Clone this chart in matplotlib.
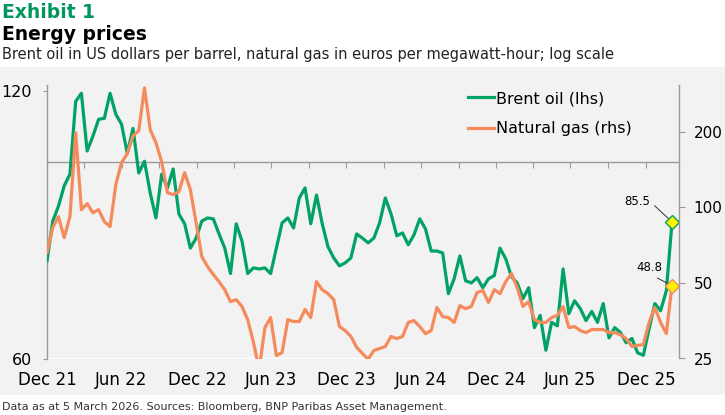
import matplotlib
matplotlib.use("Agg")
import matplotlib.pyplot as plt
from matplotlib.patches import Rectangle
from matplotlib.ticker import NullLocator
import pandas as pd

plt.rcParams['font.family'] = ['DejaVu Sans']

# biweekly readings, last one on 5 March 2026
brent = [77.3, 85.7, 89.1, 93.9, 96.8, 116.9, 119.4, 102.8, 106.8, 111.6,
         111.9, 119.4, 113.1, 110.2, 102.2, 109.0, 97.1, 100.1, 92.2, 86.4,
         96.8, 93.4, 98.1, 87.3, 85.1, 79.9, 82.0, 85.7, 86.4, 86.2,
         82.9, 79.9, 74.8, 85.1, 81.4, 74.8, 75.9, 75.7, 75.9, 74.8,
         79.9, 85.3, 86.4, 84.2, 91.0, 93.4, 85.1, 91.7, 85.1, 80.2,
         77.9, 76.3, 76.9, 77.9, 82.9, 82.0, 81.0, 82.0, 85.3, 91.0,
         87.3, 82.5, 83.1, 80.6, 82.7, 86.2, 84.0, 79.3, 79.3, 78.9,
         71.0, 73.8, 78.3, 73.4, 73.0, 74.0, 72.1, 73.8, 74.4, 79.9,
         77.7, 74.2, 73.0, 70.1, 72.1, 65.0, 67.1, 61.3, 65.9, 65.3,
         75.7, 67.4, 69.7, 68.3, 66.2, 67.8, 65.9, 69.2, 63.3, 65.0,
         64.2, 62.5, 63.2, 60.9, 60.5, 64.8, 69.2, 67.9, 71.5, 85.5]

gas = [66.0, 83.0, 91.8, 75.7, 91.8, 198.2, 97.9, 103.4, 95.2, 97.9,
       87.7, 83.8, 123.1, 150.6, 163.5, 192.8, 201.8, 299.0, 203.7, 180.8,
       151.9, 114.4, 112.3, 115.4, 137.4, 117.6, 86.9, 63.6, 58.1, 54.0,
       50.6, 47.0, 42.1, 42.9, 40.3, 35.7, 29.0, 22.6, 33.2, 36.4,
       25.7, 26.4, 35.7, 35.1, 35.1, 39.2, 36.4, 50.6, 47.0, 45.3,
       42.9, 33.5, 32.3, 30.6, 27.7, 26.2, 24.8, 26.9, 27.4, 27.9,
       30.6, 30.0, 30.6, 34.8, 35.4, 33.5, 31.4, 32.3, 39.9, 36.7,
       36.4, 34.8, 40.6, 39.5, 40.3, 45.8, 46.6, 41.8, 47.0, 45.3,
       50.6, 54.5, 47.9, 40.3, 42.1, 35.7, 34.8, 34.8, 36.4, 37.1,
       40.3, 33.2, 33.5, 32.3, 31.7, 32.6, 32.6, 32.6, 31.7, 31.7,
       31.1, 30.0, 27.9, 28.2, 28.4, 34.8, 39.9, 34.8, 31.4, 48.8]

dates = pd.date_range(end="2026-03-05", periods=len(brent), freq="14D")

left_ticks = [60, 120]
right_ticks = [25, 50, 100, 200]

GREEN = '#00A265'
ORANGE = '#F58A5C'
AXIS = '#9A9A9A'

fig = plt.figure(figsize=(7.25, 4.15), dpi=100)
fig.patches.append(Rectangle((0, 20 / 415), 1, 328 / 415, transform=fig.transFigure,
                             facecolor='#F2F2F2', edgecolor='none', zorder=-10))

fig.text(0.003, 1 - 13 / 415, "Exhibit 1", color='#00965E', fontsize=13.5,
         fontweight='bold', va='center', ha='left')
fig.text(0.003, 1 - 34 / 415, "Energy prices", color='black', fontsize=13.5,
         fontweight='bold', va='center', ha='left')
fig.text(0.003, 1 - 55 / 415,
         "Brent oil in US dollars per barrel, natural gas in euros per megawatt-hour; log scale",
         color='#222222', fontsize=10.5, va='center', ha='left')
fig.text(0.003, 1 - 407 / 415,
         "Data as at 5 March 2026. Sources: Bloomberg, BNP Paribas Asset Management.",
         color='#333333', fontsize=8, va='center', ha='left')

ax = fig.add_axes([47 / 725, 1 - 358.5 / 415, (679 - 47) / 725, (358.5 - 85) / 415])
ax.patch.set_alpha(0)
ax2 = ax.twinx()
ax2.patch.set_alpha(0)

l1, = ax.plot(dates, brent, color=GREEN, lw=2.3, label="Brent oil (lhs)", zorder=3)
l2, = ax2.plot(dates, gas, color=ORANGE, lw=2.3, label="Natural gas (rhs)", zorder=3)

ax.set_yscale('log')
ax2.set_yscale('log')
ax.set_ylim(60, 122)
ax2.set_ylim(25, 307)
ax.set_xlim(pd.Timestamp("2021-12-30"), pd.Timestamp("2026-03-22"))

ax.set_yticks(left_ticks, [str(t) for t in left_ticks])
ax2.set_yticks(right_ticks, [str(t) for t in right_ticks])
ax.yaxis.set_minor_locator(NullLocator())
ax2.yaxis.set_minor_locator(NullLocator())

for a in (ax, ax2):
    for s in a.spines.values():
        s.set_color(AXIS)
        s.set_linewidth(1.0)
    a.spines['top'].set_visible(False)
ax.spines['right'].set_visible(False)
ax2.spines['left'].set_visible(False)
ax2.spines['bottom'].set_visible(False)

# x axis line sits at 100 on the left scale
ax.spines['bottom'].set_position(('data', 100))
quarter_ends = pd.date_range("2021-12-01", "2025-12-01", freq="3MS") + pd.offsets.MonthEnd(0)
ax.set_xticks(quarter_ends)
ax.tick_params(axis='x', direction='out', length=4, color=AXIS, labelbottom=False)
ax.xaxis.set_minor_locator(NullLocator())

secx = ax.secondary_xaxis('bottom')
label_dates = quarter_ends[::2]
secx.set_xticks(label_dates, [d.strftime('%b %y') for d in label_dates])
secx.tick_params(length=0, pad=9, labelsize=12, labelcolor='black')
secx.spines['bottom'].set_visible(False)

ax.tick_params(axis='y', direction='out', length=3, color=AXIS, pad=8,
               labelsize=11.5, labelcolor='black')
ax2.tick_params(axis='y', direction='out', length=4, color=AXIS, pad=6.5,
                labelsize=11, labelcolor='black')

# latest values
ax.plot(dates[-1], brent[-1], marker='D', ms=7, mfc='#FFF200', mec=GREEN, mew=1, zorder=5)
ax2.plot(dates[-1], gas[-1], marker='D', ms=7, mfc='#FFF200', mec=ORANGE, mew=1, zorder=5)
ax.annotate(f"{brent[-1]}", xy=(dates[-1], brent[-1]), xytext=(-16, 15),
            textcoords='offset points', ha='right', va='center', fontsize=8.5,
            arrowprops=dict(arrowstyle='-', color='#333333', lw=0.7, relpos=(1, 0.5),
                            shrinkA=2, shrinkB=1))
ax2.annotate(f"{gas[-1]}", xy=(dates[-1], gas[-1]), xytext=(-7, 13),
             textcoords='offset points', ha='right', va='center', fontsize=8.5,
             arrowprops=dict(arrowstyle='-', color='#333333', lw=0.7, relpos=(0.5, 0),
                             shrinkA=2, shrinkB=1))

fig.legend(handles=[l1, l2], loc='upper left', bbox_to_anchor=(468 / 725, 1 - 91 / 415),
           frameon=False, fontsize=11.5, handlelength=1.6, handletextpad=0.15,
           labelspacing=0.95, borderpad=0, borderaxespad=0)

fig.savefig("out.png", dpi=100)
